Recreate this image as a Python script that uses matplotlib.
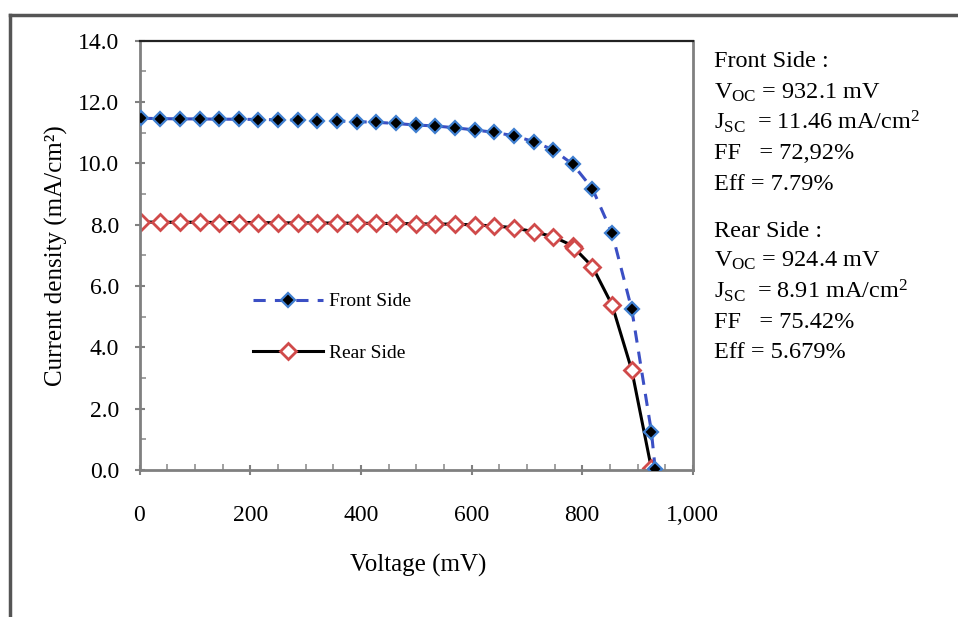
import matplotlib
matplotlib.use("Agg")
import matplotlib.pyplot as plt
from matplotlib.ticker import MultipleLocator, FuncFormatter
from matplotlib.lines import Line2D

plt.rcParams['font.family'] = ['Liberation Serif', 'DejaVu Serif']
plt.rcParams['mathtext.fontset'] = 'custom'
plt.rcParams['mathtext.rm'] = 'Liberation Serif'
plt.rcParams['mathtext.it'] = 'Liberation Serif:italic'

# ---- data ----
front_v = [2, 37.5, 73, 108.5, 144, 179.5, 215, 250.5, 286, 321.5, 357, 392.5, 428, 463.5,
           499, 534.5, 570, 605.5, 641, 676.5, 712, 747.5, 783, 818.5, 854, 889.5, 925, 932]
front_j = [11.47, 11.46, 11.45, 11.45, 11.44, 11.44, 11.43, 11.42, 11.41, 11.39, 11.38, 11.36,
           11.34, 11.30, 11.25, 11.22, 11.16, 11.09, 11.01, 10.90, 10.71, 10.44, 9.97, 9.17,
           7.72, 5.24, 1.25, 0.02]
rear_v = [2, 37.5, 73, 108.5, 144, 179.5, 215, 250.5, 286, 321.5, 357, 392.5, 428, 463.5,
          499, 534.5, 570, 605.5, 641, 676.5, 712, 747.5, 783, 786, 818.5, 854, 889.5, 925]
rear_j = [8.09, 8.08, 8.08, 8.08, 8.07, 8.07, 8.07, 8.06, 8.06, 8.06, 8.05, 8.05, 8.04, 8.04,
          8.03, 8.02, 8.02, 7.99, 7.96, 7.90, 7.77, 7.61, 7.31, 7.23, 6.63, 5.38, 3.26, 0.05]

front_label = "Front Side"
rear_label = "Rear Side"
front_lines = ["Front Side :",
               r"$\mathregular{V_{OC}}$ = 932.1 mV",
               r"$\mathregular{J_{SC}}$  = 11.46 mA/cm$\mathregular{^2}$",
               "FF   = 72,92%",
               "Eff = 7.79%"]
rear_lines = ["Rear Side :",
              r"$\mathregular{V_{OC}}$ = 924.4 mV",
              r"$\mathregular{J_{SC}}$  = 8.91 mA/cm$\mathregular{^2}$",
              "FF   = 75.42%",
              "Eff = 5.679%"]

W, H = 958, 617
x0, x1, ytop, ybot = 139.5, 692.9, 40.7, 470.0
fig = plt.figure(figsize=(W / 100, H / 100), dpi=100)
ax = fig.add_axes([x0 / W, 1 - ybot / H, (x1 - x0) / W, (ybot - ytop) / H])

ax.plot(front_v, front_j, linestyle=(0, (4, 3)), color='#3b4fc4', linewidth=2.2,
        marker='D', markersize=7, markerfacecolor='black', markeredgecolor='#3f7fd0',
        markeredgewidth=1.6, label=front_label, zorder=3)
ax.plot(rear_v, rear_j, linestyle='-', color='black', linewidth=2.2,
        marker='D', markersize=8, markerfacecolor='white', markeredgecolor='#d04a4a',
        markeredgewidth=2, label=rear_label, zorder=2)

ax.set_xlim(0, 1000)
ax.set_ylim(0, 14)
ax.xaxis.set_major_locator(MultipleLocator(200))
ax.xaxis.set_minor_locator(MultipleLocator(50))
ax.yaxis.set_major_locator(MultipleLocator(2))
ax.yaxis.set_minor_locator(MultipleLocator(1))
ax.xaxis.set_major_formatter(FuncFormatter(lambda v, p: f"{int(round(v)):,}"))
ax.yaxis.set_major_formatter(FuncFormatter(lambda v, p: f"{v:.1f}"))

ax.tick_params(axis='both', which='major', direction='inout', length=7, width=1.5,
               color='#808080', labelsize=17)
ax.tick_params(axis='y', which='major', pad=11)
ax.tick_params(axis='x', which='major', pad=22)
ax.tick_params(axis='both', which='minor', direction='in', length=4, width=1.2, color='#909090')

for s in ['left', 'bottom', 'right']:
    ax.spines[s].set_color('#808080')
    ax.spines[s].set_linewidth(2)
ax.spines['top'].set_color('#222222')
ax.spines['top'].set_linewidth(1.6)

ax.set_xlabel("Voltage (mV)", fontsize=18)
ax.set_ylabel("Current density (mA/cm²)", fontsize=18)
ax.xaxis.set_label_coords((418 - x0) / (x1 - x0), (ybot - 554) / (ybot - ytop))
ax.yaxis.set_label_coords((68 - x0) / (x1 - x0), 0.5)

leg = ax.legend(loc='upper left',
                bbox_to_anchor=((245 - x0) / (x1 - x0), (ybot - 285) / (ybot - ytop)),
                frameon=False, fontsize=14, handlelength=3.6, labelspacing=1.75,
                handletextpad=0.3, borderaxespad=0)

# annotation text block (baselines in pixels)
fy = [67, 99, 129, 159, 190]
ry = [237, 267, 298, 328, 358]
for t, y in zip(front_lines, fy):
    fig.text(714 / W, 1 - y / H, t, fontsize=17.5, va='baseline', ha='left')
for t, y in zip(rear_lines, ry):
    fig.text(714 / W, 1 - y / H, t, fontsize=17.5, va='baseline', ha='left')

# outer frame (left and top)
fig.add_artist(Line2D([10 / W, 10 / W], [0, 1 - 15 / H], transform=fig.transFigure,
                      color='#555555', linewidth=2.5))
fig.add_artist(Line2D([10 / W, 1], [1 - 15 / H, 1 - 15 / H], transform=fig.transFigure,
                      color='#555555', linewidth=2.5))

fig.savefig("out.png", dpi=100)
